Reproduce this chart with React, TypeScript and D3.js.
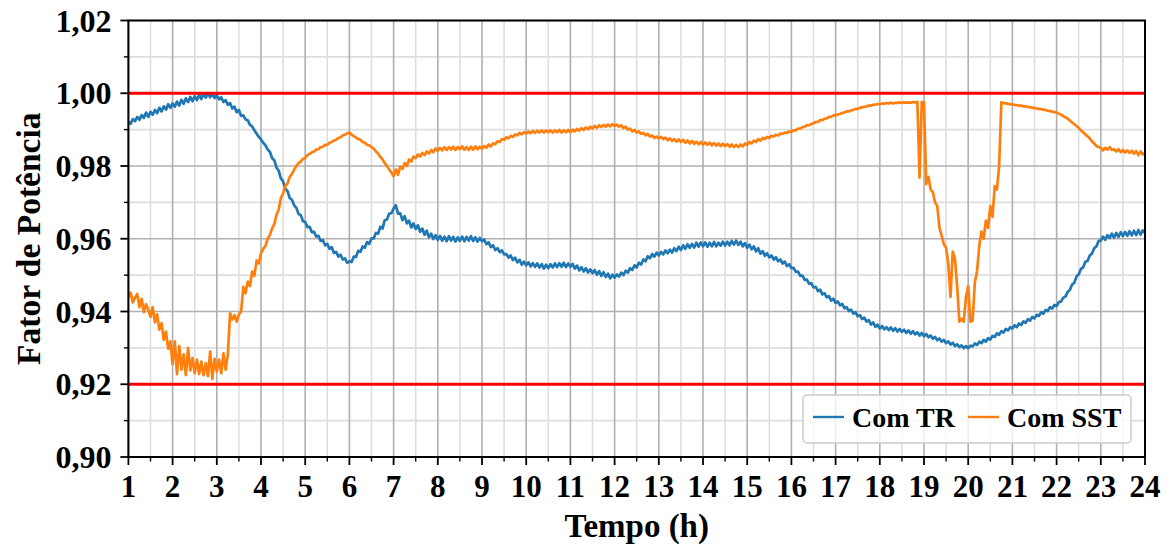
import React from "react";
import * as d3 from "d3";

// ---- data (sampled every 0.05 h starting at 1 h) ----
const START_HOUR = 1;
const STEP_HOUR = 0.05;

const comTR = [
  0.9922, 0.9916, 0.9929, 0.9923, 0.9935, 0.9927, 0.9940, 0.9932, 0.9947, 0.9935, 0.9949, 0.9941, 0.9954, 0.9945, 0.9960, 0.9950, 0.9964, 0.9955, 0.9970, 0.9960,
  0.9972, 0.9963, 0.9977, 0.9966, 0.9982, 0.9971, 0.9986, 0.9976, 0.9990, 0.9978, 0.9992, 0.9981, 0.9996, 0.9984, 0.9999, 0.9988, 1.0000, 0.9989, 0.9998, 0.9987,
  0.9995, 0.9983, 0.9989, 0.9976, 0.9981, 0.9968, 0.9973, 0.9958, 0.9963, 0.9948, 0.9954, 0.9938, 0.9939, 0.9928, 0.9926, 0.9913, 0.9909, 0.9898, 0.9889, 0.9880,
  0.9873, 0.9864, 0.9857, 0.9846, 0.9839, 0.9822, 0.9816, 0.9796, 0.9787, 0.9766, 0.9758, 0.9738, 0.9731, 0.9712, 0.9707, 0.9692, 0.9685, 0.9668, 0.9665, 0.9648,
  0.9646, 0.9632, 0.9633, 0.9618, 0.9619, 0.9606, 0.9608, 0.9594, 0.9596, 0.9582, 0.9586, 0.9572, 0.9577, 0.9561, 0.9564, 0.9551, 0.9556, 0.9543, 0.9546, 0.9534,
  0.9538, 0.9536, 0.9551, 0.9550, 0.9567, 0.9564, 0.9579, 0.9575, 0.9591, 0.9586, 0.9601, 0.9601, 0.9616, 0.9614, 0.9633, 0.9628, 0.9651, 0.9653, 0.9669, 0.9670,
  0.9683, 0.9692, 0.9669, 0.9670, 0.9651, 0.9662, 0.9642, 0.9650, 0.9631, 0.9642, 0.9627, 0.9637, 0.9619, 0.9628, 0.9611, 0.9622, 0.9604, 0.9614, 0.9599, 0.9610,
  0.9597, 0.9608, 0.9595, 0.9606, 0.9593, 0.9607, 0.9595, 0.9605, 0.9592, 0.9604, 0.9594, 0.9606, 0.9593, 0.9605, 0.9595, 0.9607, 0.9594, 0.9604, 0.9592, 0.9602,
  0.9593, 0.9598, 0.9585, 0.9590, 0.9577, 0.9582, 0.9569, 0.9574, 0.9563, 0.9568, 0.9557, 0.9558, 0.9548, 0.9554, 0.9541, 0.9548, 0.9535, 0.9542, 0.9529, 0.9537,
  0.9527, 0.9535, 0.9524, 0.9533, 0.9523, 0.9532, 0.9521, 0.9530, 0.9518, 0.9529, 0.9519, 0.9530, 0.9521, 0.9532, 0.9522, 0.9533, 0.9523, 0.9534, 0.9522, 0.9532,
  0.9523, 0.9531, 0.9518, 0.9526, 0.9513, 0.9522, 0.9510, 0.9519, 0.9507, 0.9516, 0.9505, 0.9514, 0.9501, 0.9511, 0.9498, 0.9508, 0.9495, 0.9504, 0.9491, 0.9501,
  0.9493, 0.9502, 0.9496, 0.9507, 0.9500, 0.9512, 0.9507, 0.9519, 0.9514, 0.9527, 0.9521, 0.9534, 0.9529, 0.9543, 0.9538, 0.9552, 0.9546, 0.9558, 0.9551, 0.9562,
  0.9554, 0.9564, 0.9557, 0.9568, 0.9560, 0.9570, 0.9562, 0.9574, 0.9566, 0.9578, 0.9569, 0.9582, 0.9572, 0.9585, 0.9575, 0.9586, 0.9576, 0.9589, 0.9578, 0.9590,
  0.9579, 0.9590, 0.9578, 0.9589, 0.9579, 0.9591, 0.9579, 0.9589, 0.9581, 0.9592, 0.9581, 0.9592, 0.9582, 0.9594, 0.9584, 0.9595, 0.9583, 0.9592, 0.9579, 0.9588,
  0.9575, 0.9584, 0.9571, 0.9579, 0.9565, 0.9574, 0.9559, 0.9566, 0.9553, 0.9560, 0.9549, 0.9554, 0.9543, 0.9549, 0.9538, 0.9543, 0.9532, 0.9537, 0.9525, 0.9530,
  0.9519, 0.9520, 0.9509, 0.9510, 0.9498, 0.9499, 0.9487, 0.9488, 0.9476, 0.9478, 0.9466, 0.9468, 0.9456, 0.9460, 0.9447, 0.9450, 0.9439, 0.9442, 0.9430, 0.9435,
  0.9424, 0.9428, 0.9417, 0.9421, 0.9409, 0.9412, 0.9401, 0.9405, 0.9394, 0.9398, 0.9387, 0.9390, 0.9379, 0.9383, 0.9372, 0.9376, 0.9364, 0.9370, 0.9358, 0.9364,
  0.9353, 0.9360, 0.9351, 0.9357, 0.9349, 0.9356, 0.9347, 0.9354, 0.9345, 0.9352, 0.9344, 0.9350, 0.9341, 0.9348, 0.9339, 0.9346, 0.9337, 0.9343, 0.9334, 0.9341,
  0.9332, 0.9338, 0.9329, 0.9334, 0.9325, 0.9330, 0.9321, 0.9326, 0.9317, 0.9322, 0.9313, 0.9318, 0.9309, 0.9314, 0.9305, 0.9310, 0.9302, 0.9307, 0.9299, 0.9305,
  0.9299, 0.9306, 0.9304, 0.9312, 0.9308, 0.9317, 0.9313, 0.9322, 0.9317, 0.9327, 0.9323, 0.9333, 0.9330, 0.9340, 0.9336, 0.9346, 0.9342, 0.9352, 0.9348, 0.9357,
  0.9353, 0.9362, 0.9357, 0.9367, 0.9363, 0.9373, 0.9369, 0.9379, 0.9375, 0.9385, 0.9381, 0.9391, 0.9388, 0.9398, 0.9394, 0.9404, 0.9401, 0.9412, 0.9408, 0.9418,
  0.9415, 0.9426, 0.9427, 0.9438, 0.9441, 0.9454, 0.9459, 0.9474, 0.9479, 0.9496, 0.9502, 0.9517, 0.9521, 0.9537, 0.9539, 0.9554, 0.9559, 0.9574, 0.9579, 0.9594,
  0.9595, 0.9606, 0.9597, 0.9610, 0.9602, 0.9614, 0.9603, 0.9616, 0.9605, 0.9618, 0.9607, 0.9619, 0.9608, 0.9621, 0.9609, 0.9622, 0.9610, 0.9624, 0.9611, 0.9623,
  0.9616,
];

const comSST = [
  0.9440, 0.9452, 0.9425, 0.9438, 0.9448, 0.9412, 0.9435, 0.9398, 0.9420, 0.9405, 0.9385, 0.9412, 0.9370, 0.9392, 0.9350, 0.9368, 0.9322, 0.9345, 0.9298, 0.9318,
  0.9255, 0.9318, 0.9228, 0.9305, 0.9240, 0.9282, 0.9225, 0.9300, 0.9238, 0.9272, 0.9230, 0.9268, 0.9228, 0.9262, 0.9225, 0.9258, 0.9222, 0.9290, 0.9215, 0.9270,
  0.9235, 0.9268, 0.9230, 0.9285, 0.9240, 0.9282, 0.9395, 0.9378, 0.9390, 0.9372, 0.9392, 0.9400, 0.9468, 0.9450, 0.9482, 0.9470, 0.9510, 0.9498, 0.9540, 0.9532,
  0.9560, 0.9572, 0.9580, 0.9600, 0.9610, 0.9628, 0.9640, 0.9665, 0.9680, 0.9712, 0.9725, 0.9745, 0.9752, 0.9770, 0.9778, 0.9790, 0.9800, 0.9808, 0.9812, 0.9820,
  0.9822, 0.9830, 0.9833, 0.9838, 0.9840, 0.9845, 0.9846, 0.9852, 0.9853, 0.9858, 0.9858, 0.9864, 0.9866, 0.9870, 0.9872, 0.9877, 0.9879, 0.9884, 0.9886, 0.9890,
  0.9892, 0.9886, 0.9882, 0.9878, 0.9874, 0.9872, 0.9866, 0.9864, 0.9858, 0.9857, 0.9852, 0.9848, 0.9840, 0.9834, 0.9825, 0.9818, 0.9808, 0.9800, 0.9790, 0.9782,
  0.9772, 0.9790, 0.9776, 0.9798, 0.9792, 0.9808, 0.9800, 0.9818, 0.9812, 0.9826, 0.9822, 0.9832, 0.9826, 0.9836, 0.9830, 0.9840, 0.9834, 0.9844, 0.9838, 0.9848,
  0.9842, 0.9850, 0.9843, 0.9852, 0.9844, 0.9852, 0.9845, 0.9853, 0.9844, 0.9852, 0.9846, 0.9854, 0.9845, 0.9852, 0.9844, 0.9853, 0.9845, 0.9854, 0.9846, 0.9853,
  0.9847, 0.9855, 0.9850, 0.9859, 0.9854, 0.9862, 0.9860, 0.9868, 0.9866, 0.9874, 0.9872, 0.9879, 0.9876, 0.9883, 0.9880, 0.9887, 0.9884, 0.9891, 0.9887, 0.9893,
  0.9889, 0.9895, 0.9890, 0.9896, 0.9891, 0.9897, 0.9892, 0.9898, 0.9892, 0.9898, 0.9893, 0.9898, 0.9892, 0.9898, 0.9893, 0.9899, 0.9892, 0.9898, 0.9893, 0.9899,
  0.9893, 0.9900, 0.9895, 0.9902, 0.9897, 0.9904, 0.9899, 0.9906, 0.9901, 0.9908, 0.9903, 0.9910, 0.9905, 0.9912, 0.9907, 0.9913, 0.9908, 0.9914, 0.9909, 0.9915,
  0.9910, 0.9914, 0.9908, 0.9912, 0.9904, 0.9908, 0.9900, 0.9903, 0.9895, 0.9899, 0.9892, 0.9895, 0.9888, 0.9891, 0.9884, 0.9888, 0.9881, 0.9884, 0.9877, 0.9881,
  0.9876, 0.9880, 0.9874, 0.9878, 0.9871, 0.9876, 0.9869, 0.9874, 0.9867, 0.9873, 0.9866, 0.9872, 0.9864, 0.9870, 0.9862, 0.9869, 0.9861, 0.9867, 0.9860, 0.9866,
  0.9859, 0.9865, 0.9858, 0.9864, 0.9857, 0.9863, 0.9856, 0.9862, 0.9855, 0.9861, 0.9855, 0.9860, 0.9853, 0.9859, 0.9852, 0.9858, 0.9852, 0.9859, 0.9854, 0.9862,
  0.9858, 0.9866, 0.9862, 0.9870, 0.9866, 0.9874, 0.9870, 0.9877, 0.9874, 0.9880, 0.9877, 0.9883, 0.9881, 0.9886, 0.9884, 0.9889, 0.9888, 0.9892, 0.9891, 0.9895,
  0.9894, 0.9898, 0.9898, 0.9903, 0.9903, 0.9907, 0.9908, 0.9912, 0.9912, 0.9916, 0.9917, 0.9921, 0.9921, 0.9926, 0.9926, 0.9930, 0.9931, 0.9935, 0.9935, 0.9939,
  0.9939, 0.9942, 0.9943, 0.9946, 0.9947, 0.9950, 0.9950, 0.9953, 0.9954, 0.9957, 0.9957, 0.9960, 0.9961, 0.9963, 0.9964, 0.9966, 0.9966, 0.9968, 0.9969, 0.9970,
  0.9970, 0.9972, 0.9971, 0.9973, 0.9972, 0.9974, 0.9972, 0.9974, 0.9973, 0.9975, 0.9973, 0.9975, 0.9974, 0.9975, 0.9974, 0.9976, 0.9975, 0.9976, 0.9768, 0.9976,
  0.9976, 0.9750, 0.9770, 0.9735, 0.9728, 0.9700, 0.9690, 0.9630, 0.9608, 0.9585, 0.9575, 0.9530, 0.9440, 0.9565, 0.9545, 0.9470, 0.9372, 0.9380, 0.9372, 0.9440,
  0.9470, 0.9372, 0.9375, 0.9480, 0.9510, 0.9580, 0.9620, 0.9600, 0.9650, 0.9630, 0.9690, 0.9660, 0.9745, 0.9735, 0.9800, 0.9975, 0.9973, 0.9972, 0.9971, 0.9970,
  0.9969, 0.9968, 0.9967, 0.9966, 0.9966, 0.9964, 0.9964, 0.9962, 0.9962, 0.9960, 0.9960, 0.9958, 0.9957, 0.9956, 0.9955, 0.9954, 0.9952, 0.9951, 0.9950, 0.9948,
  0.9947, 0.9944, 0.9941, 0.9937, 0.9934, 0.9930, 0.9925, 0.9920, 0.9915, 0.9910, 0.9905, 0.9898, 0.9893, 0.9887, 0.9882, 0.9876, 0.9868, 0.9862, 0.9855, 0.9852,
  0.9850, 0.9843, 0.9850, 0.9845, 0.9852, 0.9844, 0.9846, 0.9840, 0.9846, 0.9838, 0.9844, 0.9837, 0.9843, 0.9836, 0.9842, 0.9834, 0.9841, 0.9830, 0.9840, 0.9832,
  0.9836,
];

const xTicks = d3.range(1, 25);
const xMinorTicks = d3.range(1.5, 24, 1);
const yTicks = [0.90, 0.92, 0.94, 0.96, 0.98, 1.00, 1.02];
const yMinorTicks = [0.91, 0.93, 0.95, 0.97, 0.99, 1.01];
const limitLines = [1.00, 0.92];

const seriesNames = ["Com TR", "Com SST"];
const seriesColors = ["#1f77b4", "#ff7f0e"];

const W = 1167;
const H = 545;
const M = { left: 128.4, right: 1145, top: 20.5, bottom: 457 };

const FONT = "'Liberation Serif', 'Times New Roman', serif";

export default function App() {
  const x = d3.scaleLinear().domain([1, 24]).range([M.left, M.right]);
  const y = d3.scaleLinear().domain([0.90, 1.02]).range([M.bottom, M.top]);

  const toPts = (vals: number[]) =>
    vals.map((v, i) => [START_HOUR + i * STEP_HOUR, v] as [number, number]);

  const line = d3
    .line<[number, number]>()
    .x((d) => x(d[0]))
    .y((d) => y(d[1]));

  const series = [comTR, comSST];
  const fmtY = (v: number) => v.toFixed(2).replace(".", ",");

  return (
    <svg
      width={W}
      height={H}
      style={{ position: "absolute", left: 0, top: 0, background: "#fff" }}
      fontFamily={FONT}
    >
      <defs>
        <clipPath id="plotclip">
          <rect x={M.left} y={M.top} width={M.right - M.left} height={M.bottom - M.top} />
        </clipPath>
      </defs>
      <rect x={0} y={0} width={W} height={H} fill="#fff" />

      {/* minor grid */}
      {xMinorTicks.map((t) => (
        <line key={"xm" + t} x1={x(t)} x2={x(t)} y1={M.top} y2={M.bottom} stroke="#dedede" strokeWidth={1.6} />
      ))}
      {yMinorTicks.map((t) => (
        <line key={"ym" + t} x1={M.left} x2={M.right} y1={y(t)} y2={y(t)} stroke="#dedede" strokeWidth={1.6} />
      ))}
      {/* major grid */}
      {xTicks.map((t) => (
        <line key={"xg" + t} x1={x(t)} x2={x(t)} y1={M.top} y2={M.bottom} stroke="#b0b0b0" strokeWidth={1.6} />
      ))}
      {yTicks.map((t) => (
        <line key={"yg" + t} x1={M.left} x2={M.right} y1={y(t)} y2={y(t)} stroke="#b0b0b0" strokeWidth={1.6} />
      ))}

      {/* data */}
      <g clipPath="url(#plotclip)">
        {series.map((s, i) => (
          <path
            key={"s" + i}
            d={line(toPts(s)) || ""}
            fill="none"
            stroke={seriesColors[i]}
            strokeWidth={2.7}
            strokeLinejoin="round"
          />
        ))}
        {limitLines.map((v) => (
          <line key={"lim" + v} x1={M.left} x2={M.right} y1={y(v)} y2={y(v)} stroke="#ff0000" strokeWidth={3} />
        ))}
      </g>

      {/* frame */}
      <rect
        x={M.left}
        y={M.top}
        width={M.right - M.left}
        height={M.bottom - M.top}
        fill="none"
        stroke="#000"
        strokeWidth={2}
      />

      {/* ticks */}
      {xTicks.map((t) => (
        <g key={"xt" + t}>
          <line x1={x(t)} x2={x(t)} y1={M.bottom} y2={M.bottom + 8} stroke="#000" strokeWidth={1.8} />
          <text x={x(t)} y={M.bottom + 40} textAnchor="middle" fontSize={31} fontWeight="bold" fill="#000">
            {t}
          </text>
        </g>
      ))}
      {xMinorTicks.map((t) => (
        <line key={"xmt" + t} x1={x(t)} x2={x(t)} y1={M.bottom} y2={M.bottom + 4.5} stroke="#000" strokeWidth={1.4} />
      ))}
      {yTicks.map((t) => (
        <g key={"yt" + t}>
          <line x1={M.left - 8} x2={M.left} y1={y(t)} y2={y(t)} stroke="#000" strokeWidth={1.8} />
          <text x={M.left - 17} y={y(t) + 11} textAnchor="end" fontSize={32} fontWeight="bold" fill="#000">
            {fmtY(t)}
          </text>
        </g>
      ))}
      {yMinorTicks.map((t) => (
        <line key={"ymt" + t} x1={M.left - 4.5} x2={M.left} y1={y(t)} y2={y(t)} stroke="#000" strokeWidth={1.4} />
      ))}

      {/* axis labels */}
      <text x={(M.left + M.right) / 2} y={537} textAnchor="middle" fontSize={33} fontWeight="bold" fill="#000">
        Tempo (h)
      </text>
      <text
        transform={`translate(40, ${(M.top + M.bottom) / 2}) rotate(-90)`}
        textAnchor="middle"
        fontSize={33.5}
        fontWeight="bold"
        fill="#000"
      >
        Fator de Potência
      </text>

      {/* legend */}
      <g>
        <rect x={803} y={395} width={328} height={48} rx={4} ry={4} fill="#fff" fillOpacity={0.8} stroke="#cccccc" strokeWidth={1.5} />
        {seriesNames.map((n, i) => {
          const lx = i === 0 ? 813 : 968;
          return (
            <g key={"lg" + i}>
              <line x1={lx} x2={lx + 31} y1={417} y2={417} stroke={seriesColors[i]} strokeWidth={2.4} />
              <text x={lx + 39} y={427} fontSize={28} fontWeight="bold" fill="#000">
                {n}
              </text>
            </g>
          );
        })}
      </g>
    </svg>
  );
}
